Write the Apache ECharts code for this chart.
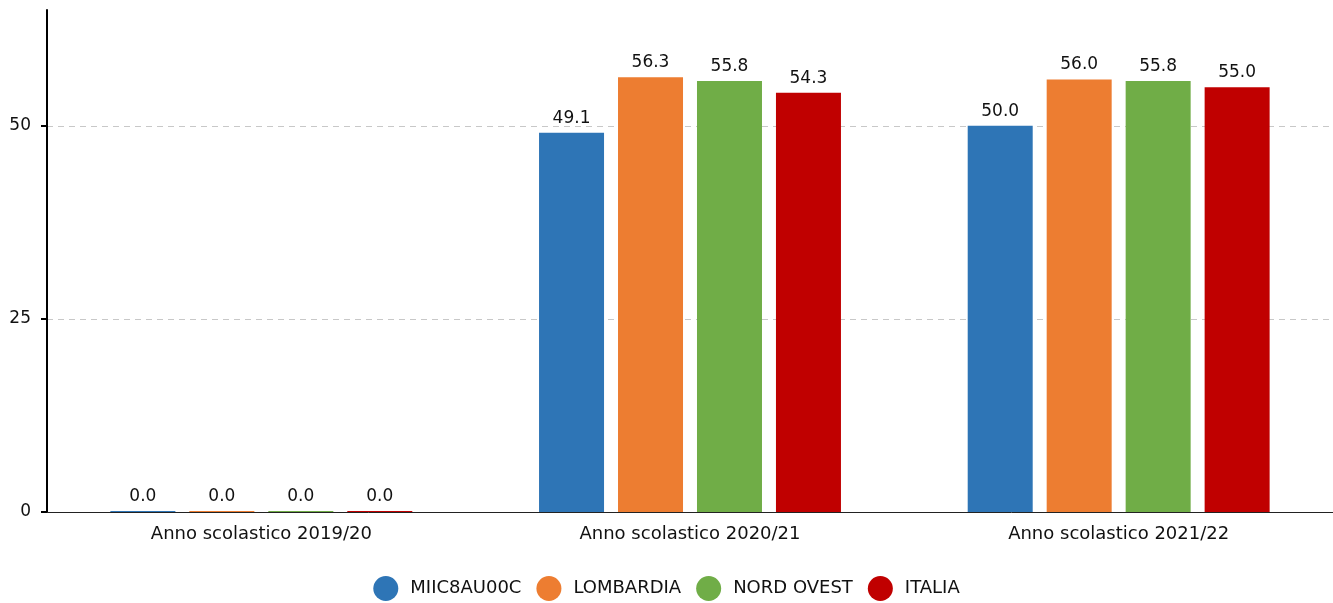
<!DOCTYPE html>
<html><head><meta charset="utf-8">
<script src="https://cdn.jsdelivr.net/npm/echarts@6/dist/echarts.min.js"></script>
<style>html,body{margin:0;padding:0;background:#fff}#c{width:1333px;height:603px}</style>
</head><body><div id="c"></div>
<script>
const categories = ["Anno scolastico 2019/20", "Anno scolastico 2020/21", "Anno scolastico 2021/22"];
const seriesNames = ["MIIC8AU00C", "LOMBARDIA", "NORD OVEST", "ITALIA"];
const miic = [0.0, 49.1, 50.0];
const lombardia = [0.0, 56.3, 56.0];
const nordOvest = [0.0, 55.8, 55.8];
const italia = [0.0, 54.3, 55.0];
const colors = ["#2E75B6", "#ED7D31", "#70AD47", "#C00000"];
const dataSets = [miic, lombardia, nordOvest, italia];

const font = "DejaVu Sans";
const chart = echarts.init(document.getElementById('c'));
chart.setOption({
  animation: false,
  textStyle: { fontFamily: font },
  grid: { left: 47, right: 0, top: 10, bottom: 91, containLabel: false },
  legend: {
    top: 571, left: 'center', icon: 'circle', itemWidth: 25, itemHeight: 25, itemGap: 15,
    textStyle: { fontFamily: font, fontSize: 18, color: '#111', padding: [0, 0, 0, 7] },
    data: seriesNames
  },
  xAxis: {
    type: 'category', data: categories,
    axisLine: { lineStyle: { color: '#222', width: 1 } },
    axisTick: { show: false },
    axisLabel: { fontFamily: font, fontSize: 18, color: '#111', margin: 13 }
  },
  yAxis: {
    type: 'value', min: 0, max: 65, interval: 25,
    axisLine: { show: true, lineStyle: { color: '#000', width: 2 } },
    axisTick: { show: true, length: 6, lineStyle: { color: '#000', width: 2 } },
    axisLabel: { fontFamily: font, fontSize: 17, color: '#111', showMaxLabel: false, margin: 16 },
    splitLine: { show: true, showMaxLine: false, lineStyle: { color: '#c8c8c8', type: [6, 5], width: 1 } }
  },
  series: dataSets.map((d, i) => ({
    name: seriesNames[i], type: 'bar', data: d,
    barWidth: 65, barGap: '21.5%', barMinHeight: 1,
    itemStyle: { color: colors[i] },
    label: { show: true, position: 'top', distance: 6, fontFamily: font, fontSize: 17, color: '#111',
      formatter: p => p.value.toFixed(1) }
  }))
});
</script></body></html>
